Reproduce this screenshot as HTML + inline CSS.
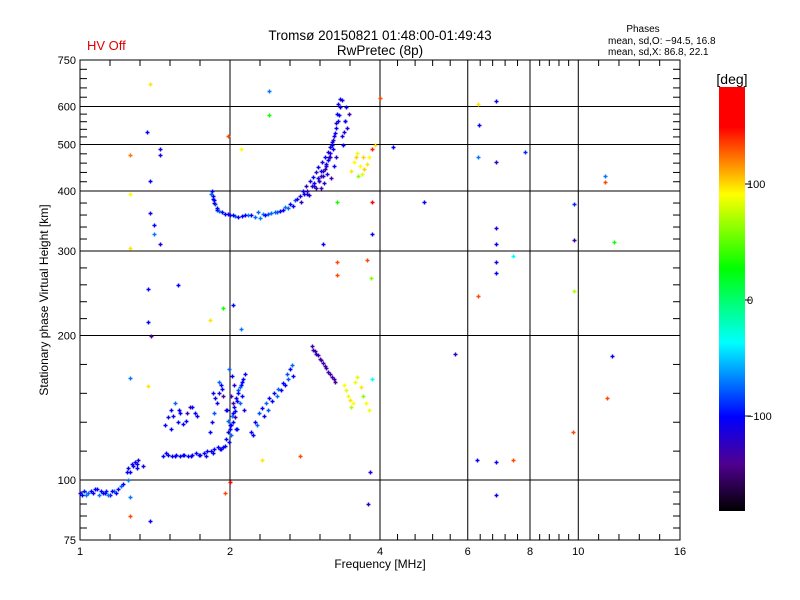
<!DOCTYPE html>
<html><head><meta charset="utf-8"><style>
body{margin:0;background:#fff}
svg{display:block;font-family:"Liberation Sans",sans-serif}
</style></head><body>
<svg id="chart" width="800" height="600" viewBox="0 0 800 600">
<defs><linearGradient id="cg" x1="0" y1="1" x2="0" y2="0">
<stop offset="0" stop-color="#000"/><stop offset="0.111" stop-color="#500090"/><stop offset="0.222" stop-color="#0000ff"/>
<stop offset="0.397" stop-color="#00ffff"/><stop offset="0.572" stop-color="#00ff00"/><stop offset="0.747" stop-color="#ffff00"/>
<stop offset="0.906" stop-color="#ff0000"/><stop offset="1" stop-color="#ff0000"/></linearGradient></defs>
<text x="87" y="50" fill="#e00000" font-size="13">HV Off</text>
<text x="380" y="40" text-anchor="middle" font-size="13.5">Tromsø 20150821 01:48:00-01:49:43</text>
<text x="380" y="55" text-anchor="middle" font-size="13.5">RwPretec (8p)</text>
<text x="643" y="32" text-anchor="middle" font-size="10">Phases</text>
<text x="608" y="44" font-size="10">mean, sd,O: −94.5, 16.8</text>
<text x="608" y="55" font-size="10">mean, sd,X:  86.8, 22.1</text>
<g id="grid"></g>
<g id="ticks"></g>
<rect x="80" y="60" width="600" height="480" fill="none" stroke="#000" stroke-width="1"/>
<g id="points"></g>
<text x="380" y="568" text-anchor="middle" font-size="12">Frequency [MHz]</text>
<text transform="translate(48,300) rotate(-90)" text-anchor="middle" font-size="12">Stationary phase Virtual Height [km]</text>
<rect x="719" y="87" width="26" height="424" fill="url(#cg)"/>
<text x="732" y="84" text-anchor="middle" font-size="14">[deg]</text>
<g id="cbticks"></g>
</svg>
<script>
const xTicks=[1,2,4,6,8,10,16];
const xLabels=["1","2","4","6","8","10","16"];
const yTicks=[75,100,200,300,400,500,600,750];
const yLabels=["75","100","200","300","400","500","600","750"];
const cbTicks=[100,0,-100];
const freqs=[1.00,1.02,1.03,1.05,1.06,1.08,1.09,1.10,1.12,1.13,1.15,1.17,1.19,1.21,1.25,
1.25,1.27,1.28,1.29,1.30,1.31,1.24,1.34,
1.47,1.50,1.53,1.56,1.59,1.62,1.65,1.68,1.71,1.74,1.77,1.80,1.83,1.86,1.89,1.92,1.95,
1.96,1.98,2.00,2.02,2.04,2.06,2.08,2.10,2.12,2.14,2.05,2.07,2.09,2.11,2.13,
1.82,1.84,1.86,1.88,1.90,1.92,1.94,1.96,1.98,2.00,1.85,1.87,1.90,1.93,1.97,2.01,2.03,
1.48,1.50,1.52,1.55,1.57,1.59,1.63,1.66,1.70,
2.20,2.25,2.29,2.32,2.36,2.40,2.45,2.50,2.56,2.60,2.64,2.66,2.68,
2.92,2.96,3.00,3.05,3.10,3.15,3.20,3.25,
3.38,3.42,3.45,3.48,3.50,3.53,3.57,3.60,3.66,3.70,3.75,3.80,3.85,
1.84,1.85,1.86,1.87,1.88,1.93,1.98,2.05,2.11,2.17,
2.28,2.33,2.38,2.46,2.52,2.58,2.64,2.70,2.76,2.80,2.84,2.90,2.94,2.98,3.00,3.04,3.06,3.10,3.15,3.17,3.20,3.25,3.26,3.28,3.30,3.32,
2.86,2.95,3.02,3.08,3.12,3.18,3.22,3.36,3.40,3.42,3.44,3.46,
3.50,3.55,3.58,3.60,3.64,3.68,3.72,3.76,3.80,3.85,3.90,3.62,3.70,
1.38,1.36,1.45,1.45,1.26,1.38,1.26,1.38,1.41,1.41,1.26,1.45,1.37,1.57,1.37,1.39,1.26,1.82,1.94,2.03,2.10,
2.40,2.40,1.98,2.10,4.00,4.25,3.85,3.85,3.28,3.28,3.28,3.77,3.83,3.07,
6.30,6.33,6.30,6.85,6.85,6.85,6.85,6.85,6.85,7.40,7.80,4.90,9.80,9.80,9.80,11.3,11.3,11.8,6.30,5.66,11.7,11.4,9.75,
6.27,6.85,7.40,6.85,3.82,3.78,2.32,2.76,2.00,1.95,1.26,1.38,1.26,1.37,
1.83,1.85,1.86,1.88,1.90,1.95,2.00,2.03,2.08,2.14,2.20,2.24,
2.30,2.35,2.42,2.48,2.55,2.62,2.68,2.72,2.78,2.82,2.86,2.88,2.92,2.95,2.97,3.00,3.02,3.05,3.08,3.10,3.12,3.14,3.16,3.18,3.20,3.22,3.24,3.27,3.29,3.31,3.33,3.35,
3.05,3.09,3.13,3.19,3.23,3.27,3.37,3.39,3.41,
1.01,1.04,1.07,1.11,1.14,1.16,1.18,1.22,1.26,1.30,
1.49,1.55,1.61,1.67,1.73,1.79,1.85,1.91,1.94,
1.99,2.01,2.03,2.05,2.07,2.09,2.11,2.01,2.03,2.06,1.99,2.02,2.04,2.08,
2.22,2.27,2.34,2.38,2.43,2.48,2.53,2.58,2.62,
2.94,2.98,3.03,3.08,3.12,3.18,3.23,
1.52,1.54,1.58,1.61,1.64,1.68,1.72];
const heights=[94,95,93,95,94,96,93,95,94,95,93,95,96,97,100,
106,108,107,109,106,110,104,107,
112,113,112,113,112,113,112,113,114,113,114,115,115,116,117,116,118,
122,126,130,136,142,148,154,158,162,166,135,128,145,150,140,
126,132,138,145,152,158,150,140,133,128,152,148,160,155,140,130,145,
130,135,140,145,132,138,133,142,138,
126,132,138,141,145,148,152,155,159,166,170,174,165,
190,186,182,178,173,168,164,160,
158,154,150,147,142,145,160,164,156,150,145,140,162,
400,391,383,375,366,361,358,355,355,356,
361,358,358,361,364,370,376,383,391,400,409,419,428,439,449,430,460,471,482,493,505,529,554,580,608,622,
395,410,420,440,450,470,490,520,560,600,540,580,
440,460,470,480,450,435,445,455,470,490,500,430,470,
670,530,490,475,475,420,395,360,340,325,305,310,250,255,213,200,163,215,228,231,206,
645,575,520,490,625,493,326,380,380,285,267,288,264,311,
608,550,470,615,460,335,310,285,270,293,482,380,375,317,248,430,418,313,242,183,181,148,126,
110,109,110,93,104,89,110,112,99,94,84,82,92,157,
395,385,378,368,363,359,356,357,354,356,357,353,
352,356,360,362,366,368,372,385,380,395,400,392,410,415,405,425,420,440,430,445,455,465,470,480,500,510,520,540,560,575,600,620,
405,415,435,425,450,470,500,530,560,
93,94,96,94,93,95,94,98,104,108,
114,112,113,112,113,112,114,116,117,
120,124,132,139,146,156,160,150,138,128,170,165,158,152,
124,130,136,140,146,150,154,158,162,
187,183,179,175,171,166,162,
128,136,140,131,138,142,136];
const phases=[-100,-95,-70,-100,-105,-100,-70,-100,-105,-95,-100,-70,-100,-75,-70,
-105,-100,-110,-105,-100,-110,-100,-105,
-100,-105,-100,-100,-105,-100,-100,-105,-100,-100,-105,-100,-100,-105,-100,-100,-105,
-100,-105,-100,-70,-100,-105,-80,-100,-105,-100,-130,-100,-75,-100,-110,
-100,-105,-80,-100,-110,-100,-140,-100,-75,-100,-100,-110,-75,-100,-105,-100,-130,
-100,-110,-100,-75,-100,-105,-100,-130,-100,
-100,-105,-80,-100,-75,-100,-105,-75,-100,-80,-100,-75,-100,
-130,-135,-125,-130,-135,-125,-130,-140,
90,80,85,95,70,90,85,80,95,60,90,85,-35,
-100,-110,-100,-80,-100,-105,-100,-75,-100,-70,
-75,-70,-80,-75,-100,-70,-105,-80,-110,-100,-125,-110,-100,-120,-105,-130,-110,-100,-120,-110,-100,-105,-110,-100,-110,-100,
-120,-110,-100,-130,-105,-110,-100,-105,-110,-100,-110,-130,
95,90,100,85,90,80,100,95,90,140,95,60,100,
95,-100,-110,-110,120,-100,90,-105,-100,-70,95,-110,-100,-100,-100,-140,-70,95,30,-100,-70,
-70,30,130,90,130,-100,-100,160,30,130,130,130,60,-100,
95,-100,-70,-100,-120,-110,-100,-110,-100,-35,-90,-100,-90,-130,70,-70,130,30,130,-120,-100,130,130,
-100,-100,130,-100,-110,-120,95,130,170,130,130,-100,-70,95,
-75,-100,-110,-100,-75,-100,-105,-100,-110,-100,-100,-75,
-70,-100,-75,-80,-105,-75,-100,-110,-125,-100,-130,-110,-120,-100,-130,-110,-125,-100,-120,-130,-110,-100,-125,-110,-100,-120,-105,-100,-110,-100,-105,-110,
-130,-120,-110,-130,-100,-120,-100,-110,-100,
-100,-75,-100,-100,-70,-100,-100,-100,-100,-105,
-100,-105,-100,-105,-100,-105,-100,-105,-100,
-100,-75,-100,-105,-100,-75,-100,-130,-100,-100,-75,-100,-110,-100,
-100,-75,-100,-80,-100,-75,-100,-100,-80,
-130,-125,-135,-130,-125,-135,-130,
-100,-105,-100,-100,-130,-100,-100];

const X=f=>80+150*Math.log2(f);
const Y=h=>540-480*Math.log10(h/75);
const CB=v=>300-1.16*v;
const stops=[[-180,0,0,0],[-140,80,0,144],[-100,0,0,255],[-37,0,255,255],[26,0,255,0],[89,255,255,0],[146,255,0,0],[180,255,0,0]];
function color(v){for(let i=1;i<stops.length;i++){if(v<=stops[i][0]){const a=stops[i-1],b=stops[i],t=(v-a[0])/(b[0]-a[0]);return `rgb(${[1,2,3].map(k=>Math.round(a[k]+t*(b[k]-a[k]))).join(',')})`;}}return 'rgb(255,0,0)';}
const NS='http://www.w3.org/2000/svg';
function mk(tag,attrs,parent){const e=document.createElementNS(NS,tag);for(const k in attrs)e.setAttribute(k,attrs[k]);parent.appendChild(e);return e;}
const grid=document.getElementById('grid'),ticks=document.getElementById('ticks'),pts=document.getElementById('points'),cbt=document.getElementById('cbticks');
xTicks.forEach((v,i)=>{const x=X(v);
 if(i>0&&i<xTicks.length-1){const g=mk('line',{x1:x,y1:60,x2:x,y2:540,stroke:'#000'},grid);
 
 }
 const t=mk('text',{x:x,y:555,'text-anchor':'middle','font-size':11},ticks);t.textContent=xLabels[i];
 
 
 if(i<xTicks.length-1){const x2=X(xTicks[i+1]);for(let k=1;k<5;k++){const xx=x+(x2-x)*k/5;
  mk('line',{x1:xx,y1:540,x2:xx,y2:534,stroke:'#000'},ticks);mk('line',{x1:xx,y1:60,x2:xx,y2:66,stroke:'#000'},ticks);}}
});
yTicks.forEach((v,i)=>{const y=Y(v);
 if(i>0&&i<yTicks.length-1){const g=mk('line',{x1:80,y1:y,x2:680,y2:y,stroke:'#000'},grid);
 
 }
 const t=mk('text',{x:76,y:y+4,'text-anchor':'end','font-size':11},ticks);t.textContent=yLabels[i];
 
 
 if(i<yTicks.length-1){const y2=Y(yTicks[i+1]);for(let k=1;k<5;k++){const yy=y+(y2-y)*k/5;
  mk('line',{x1:80,y1:yy,x2:87,y2:yy,stroke:'#000'},ticks);mk('line',{x1:680,y1:yy,x2:673,y2:yy,stroke:'#000'},ticks);}}
});
cbTicks.forEach(v=>{const y=CB(v);mk('line',{x1:745,y1:y,x2:751,y2:y,stroke:'#000'},cbt);
 const t=mk('text',{x:747,y:y+4,'font-size':11},cbt);t.textContent=v<0?'−'+Math.abs(v):String(v);
 
 });
const n=Math.min(freqs.length,heights.length,phases.length);
for(let i=0;i<n;i++){const x=Math.round(X(freqs[i]))+0.5,y=Math.round(Y(heights[i]))+0.5;
 const p=mk('path',{d:`M${x-2} ${y}H${x+2}M${x} ${y-2}V${y+2}`,stroke:color(phases[i]),'stroke-width':1.4,fill:'none'},pts);
 
 }
</script>
</body></html>
